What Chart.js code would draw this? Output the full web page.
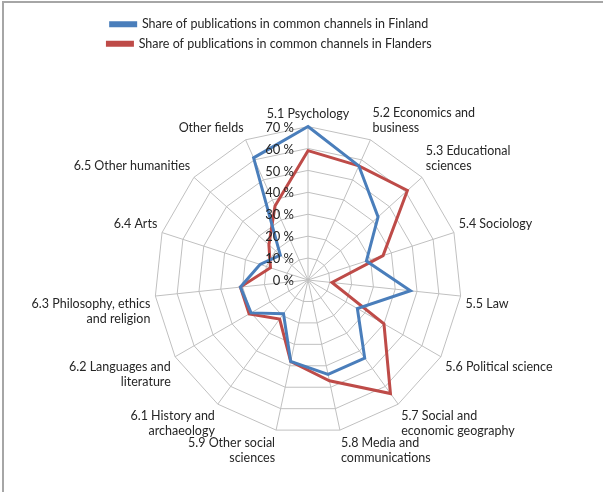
<!DOCTYPE html>
<html lang="en">

<head>
  <meta charset="UTF-8">
  <title>Share of publications in common channels</title>
  <script src="https://cdn.jsdelivr.net/npm/chart.js"></script>
  <style>
    body {
      margin: 0;
      background: #fff;
    }

    #wrap {
      position: relative;
      width: 603px;
      height: 492px;
    }

    #frame {
      position: absolute;
      left: 2px;
      top: 1px;
      right: -2px;
      bottom: -2px;
      border-top: 2px solid #a6a6a6;
      border-left: 2px solid #a6a6a6;
      pointer-events: none;
    }
  </style>
</head>

<body>
  <div id="wrap">
    <canvas id="radar" width="603" height="492"></canvas>
    <div id="frame"></div>
  </div>

  <script>
    const fields = [
      '5.1 Psychology',
      ['5.2 Economics and', 'business'],
      ['5.3 Educational', 'sciences'],
      '5.4 Sociology',
      '5.5 Law',
      '5.6 Political science',
      ['5.7 Social and', 'economic geography'],
      ['5.8 Media and', 'communications'],
      ['5.9 Other social', 'sciences'],
      ['6.1 History and', 'archaeology'],
      ['6.2 Languages and', 'literature'],
      ['6.3 Philosophy, ethics', 'and religion'],
      '6.4 Arts',
      '6.5 Other humanities',
      'Other fields'
    ];

    const finland = [70, 57, 43, 28, 47, 26, 44, 44, 38, 19, 30, 31, 23, 17, 61];
    const flanders = [59, 57, 61, 36, 11, 40, 64, 47, 38, 22, 31, 31, 18, 24, 37];

    const tickValues = [0, 10, 20, 30, 40, 50, 60, 70];

    const font = "Lato, 'Open Sans', sans-serif";

    // percent labels sit to the left of the vertical spoke
    const tickLabels = {
      id: 'tickLabels',
      afterDatasetsDraw(chart) {
        const r = chart.scales.r;
        const ctx = chart.ctx;
        ctx.save();
        ctx.font = '13px ' + font;
        ctx.fillStyle = '#262626';
        ctx.textAlign = 'right';
        ctx.textBaseline = 'middle';
        tickValues.forEach(v => {
          const y = r.yCenter - r.getDistanceFromCenterForValue(v);
          ctx.fillText(v + ' %', r.xCenter - 14, y + 1);
        });
        ctx.restore();
      }
    };

    // leave empty room under the legend and nudge it to the left
    const legendGap = {
      id: 'legendGap',
      beforeInit(chart) {
        const fit = chart.legend.fit;
        chart.legend.fit = function () {
          fit.call(this);
          this.height += 41;
        };
      },
      afterLayout(chart) {
        chart.legend.right -= 62;
      }
    };

    new Chart(document.getElementById('radar').getContext('2d'), {
      type: 'radar',
      data: {
        labels: fields,
        datasets: [
          {
            label: 'Share of publications in common channels in Finland',
            data: finland,
            borderColor: '#4a7ebb',
            backgroundColor: '#4a7ebb',
            borderWidth: 3,
            pointRadius: 0,
            fill: false
          },
          {
            label: 'Share of publications in common channels in Flanders',
            data: flanders,
            borderColor: '#be4b48',
            backgroundColor: '#be4b48',
            borderWidth: 3,
            pointRadius: 0,
            fill: false
          }
        ]
      },
      options: {
        responsive: false,
        animation: false,
        layout: {
          padding: { top: 11, left: 10, right: 12, bottom: 21 }
        },
        plugins: {
          legend: {
            position: 'top',
            labels: {
              boxWidth: 25,
              boxHeight: 3,
              padding: 7,
              color: '#262626',
              font: { family: font, size: 12.5 }
            }
          },
          tooltip: { enabled: false }
        },
        scales: {
          r: {
            min: 0,
            max: 70,
            ticks: { stepSize: 10, display: false },
            grid: { color: '#c0c0c0', lineWidth: 1 },
            angleLines: { color: '#c0c0c0', lineWidth: 1 },
            pointLabels: {
              color: '#262626',
              padding: 5,
              font: { family: font, size: 12.5 }
            }
          }
        }
      },
      plugins: [tickLabels, legendGap]
    });
  </script>
</body>

</html>
